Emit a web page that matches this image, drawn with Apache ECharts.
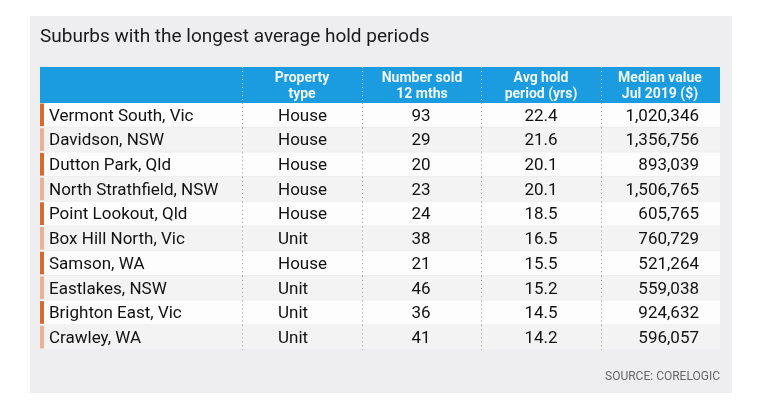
<!DOCTYPE html>
<html><head><meta charset="utf-8">
<script src="https://cdn.jsdelivr.net/npm/echarts@6/dist/echarts.min.js"></script>
<style>html,body{margin:0;padding:0;background:#fff}#c{width:783px;height:415px}</style>
</head><body><div id="c"></div>
<script>
// ---- data ----
const titleText = 'Suburbs with the longest average hold periods';
const sourceText = 'SOURCE: CORELOGIC';
const headers = ['', 'Property\ntype', 'Number sold\n12 mths', 'Avg hold\nperiod (yrs)', 'Median value\nJul 2019 ($)'];
const suburbs = ['Vermont South, Vic', 'Davidson, NSW', 'Dutton Park, Qld', 'North Strathfield, NSW', 'Point Lookout, Qld',
  'Box Hill North, Vic', 'Samson, WA', 'Eastlakes, NSW', 'Brighton East, Vic', 'Crawley, WA'];
const propertyTypes = ['House', 'House', 'House', 'House', 'House', 'Unit', 'House', 'Unit', 'Unit', 'Unit'];
const numberSold = [93, 29, 20, 23, 24, 38, 21, 46, 36, 41];
const avgHold = [22.4, 21.6, 20.1, 20.1, 18.5, 16.5, 15.5, 15.2, 14.5, 14.2];
const medianValue = [1020346, 1356756, 893039, 1506765, 605765, 760729, 521264, 559038, 924632, 596057];

// ---- layout (styles only) ----
const TABLE_W = 680;
const SEPS = [202, 322, 441, 561];
const COL_TEXT = [{x: 9, align: 'left'}, {x: 238, align: 'left'}, {x: 381, align: 'center'}, {x: 501, align: 'center'}, {x: 659, align: 'right'}];
const HEAD_X = [0, 262, 382, 501, 620];
const FONT = 'Roboto, "Noto Sans", sans-serif';

function fmtNum(v) { return String(v).replace(/\B(?=(\d{3})+(?!\d))/g, ','); }

function cellTexts(i) {
  return [suburbs[i], propertyTypes[i], String(numberSold[i]), avgHold[i].toFixed(1), fmtNum(medianValue[i])];
}

function renderRow(params, api) {
  const i = params.dataIndex;
  const c = api.coord([0, i]);
  const band = api.size([0, 1])[1];
  const left = c[0];
  const right = api.coord([TABLE_W, i])[0];
  const top = c[1] - band / 2;
  const yc = c[1] + 1;
  const children = [
    {type: 'rect', shape: {x: left, y: top, width: right - left, height: band - 1}, style: {fill: i % 2 ? '#f3f3f4' : '#fdfdfd'}},
    {type: 'rect', shape: {x: left, y: top + 0.5, width: 4, height: band - 2}, style: {fill: i % 2 ? '#e9b294' : '#d8692f'}}
  ];
  SEPS.forEach(function (s) {
    const x = Math.round(api.coord([s, i])[0]) + 0.5;
    children.push({type: 'line', shape: {x1: x, y1: top, x2: x, y2: top + band},
      style: {stroke: '#9a9a9a', lineWidth: 1, lineDash: [1, 3]}});
  });
  const t = cellTexts(i);
  t.forEach(function (txt, k) {
    const x = api.coord([COL_TEXT[k].x, i])[0];
    children.push({type: 'text', style: {text: txt, x: x, y: yc, align: COL_TEXT[k].align, verticalAlign: 'middle',
      fontFamily: FONT, fontSize: 17, fill: '#111111'}});
  });
  return {type: 'group', children: children};
}

function renderHeader(params, api) {
  const c = api.coord([0, 0]);
  const band = api.size([0, 1])[1];
  const left = c[0];
  const right = api.coord([TABLE_W, 0])[0];
  const top = c[1] - band / 2;
  const children = [
    {type: 'rect', shape: {x: left, y: top, width: right - left, height: band}, style: {fill: '#1b9be0'}}
  ];
  SEPS.forEach(function (s) {
    const x = Math.round(api.coord([s, 0])[0]) + 0.5;
    children.push({type: 'line', shape: {x1: x, y1: top, x2: x, y2: top + band},
      style: {stroke: '#d8eefa', lineWidth: 1, lineDash: [1, 3]}});
  });
  headers.forEach(function (h, k) {
    if (!h) return;
    const x = api.coord([HEAD_X[k], 0])[0];
    children.push({type: 'text', style: {text: h, x: x, y: c[1] + 1.5, align: 'center', verticalAlign: 'middle',
      fontFamily: FONT, fontSize: 14, fontWeight: 'bold', lineHeight: 16, fill: '#eef8fd'}});
  });
  return {type: 'group', children: children};
}

const chart = echarts.init(document.getElementById('c'));
chart.setOption({
  animation: false,
  backgroundColor: '#ffffff',
  title: [
    {text: titleText, left: 40, top: 28, padding: 0, textStyle: {fontFamily: FONT, fontSize: 19, fontWeight: 'normal', color: '#1a1a1a'}},
    {text: sourceText, right: 63, top: 371, padding: 0, textStyle: {fontFamily: FONT, fontSize: 12, fontWeight: 'normal', color: '#666666'}}
  ],
  graphic: [
    {type: 'rect', z: -10, shape: {x: 30, y: 16, width: 702, height: 377}, style: {fill: '#eeeef0'}}
  ],
  grid: [
    {left: 40, width: TABLE_W, top: 103, height: 247},
    {left: 40, width: TABLE_W, top: 67, height: 36}
  ],
  xAxis: [
    {gridIndex: 0, type: 'value', min: 0, max: TABLE_W, show: false},
    {gridIndex: 1, type: 'value', min: 0, max: TABLE_W, show: false}
  ],
  yAxis: [
    {gridIndex: 0, type: 'category', data: suburbs, inverse: true, show: false},
    {gridIndex: 1, type: 'category', data: ['header'], show: false}
  ],
  series: [
    {type: 'custom', xAxisIndex: 0, yAxisIndex: 0, renderItem: renderRow,
      data: suburbs.map(function (s, i) { return [0, i]; }), encode: {x: 0, y: 1}, silent: true},
    {type: 'custom', xAxisIndex: 1, yAxisIndex: 1, renderItem: renderHeader,
      data: [[0, 0]], encode: {x: 0, y: 1}, silent: true}
  ]
});
</script></body></html>
